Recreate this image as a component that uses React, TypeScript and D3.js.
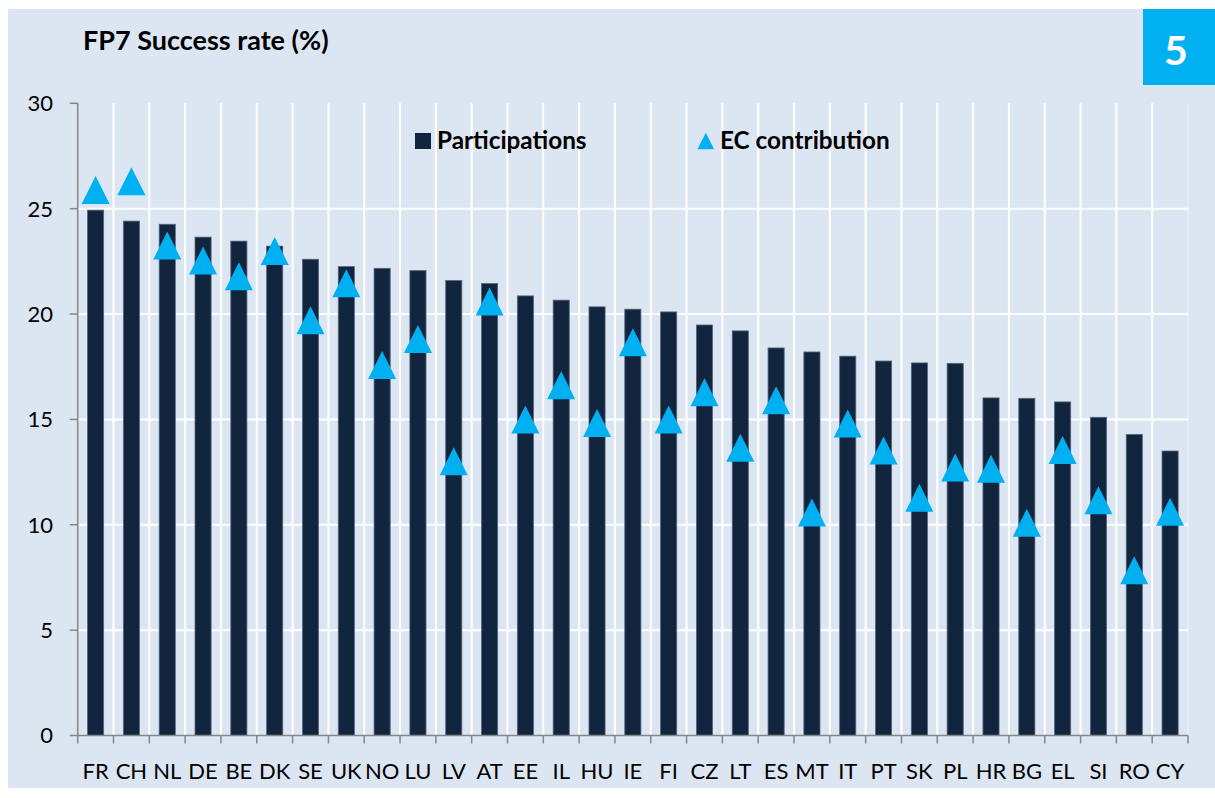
import * as d3 from "d3";

// FP7 success rates by country (%)
const countries = [
  "FR", "CH", "NL", "DE", "BE", "DK", "SE", "UK", "NO", "LU", "LV", "AT", "EE", "IL", "HU", "IE",
  "FI", "CZ", "LT", "ES", "MT", "IT", "PT", "SK", "PL", "HR", "BG", "EL", "SI", "RO", "CY",
];
const participations = [
  24.93, 24.41, 24.26, 23.65, 23.46, 23.22, 22.6, 22.25, 22.17, 22.06, 21.59, 21.45, 20.86, 20.66, 20.34, 20.23,
  20.1, 19.48, 19.2, 18.39, 18.2, 18.0, 17.77, 17.68, 17.66, 16.02, 16.0, 15.83, 15.1, 14.29, 13.5,
];
const ecContribution = [
  25.88, 26.3, 23.25, 22.54, 21.79, 22.99, 19.7, 21.46, 17.58, 18.81, 13.02, 20.59, 14.99, 16.62, 14.83, 18.66,
  14.99, 16.29, 13.65, 15.91, 10.58, 14.8, 13.53, 11.28, 12.72, 12.66, 10.1, 13.55, 11.16, 7.84, 10.62,
];
const yTicks = [0, 5, 10, 15, 20, 25, 30];

const W = 1215;
const H = 798;
const FONT = "Lato, 'Open Sans', sans-serif";
const BAR = "#12253f";
const CYAN = "#00b0f0";

const App = () => {
  const left = 77.7;
  const right = 1188;
  const top = 103.3;
  const bottom = 735.5;

  const x = d3.scaleBand<string>().domain(countries).range([left, right]).padding(0);
  const y = d3.scaleLinear().domain([0, 30]).range([bottom, top]);
  const bw = x.bandwidth() * 0.45;
  const tri = 14; // half size of the marker

  const trianglePath = (cx: number, cy: number, r: number) =>
    `M${cx},${cy - r}L${cx + r},${cy + r}L${cx - r},${cy + r}Z`;

  // band boundaries for gridlines / ticks
  const bounds = d3.range(countries.length + 1).map((i) => left + i * x.step());

  return (
    <svg width={W} height={H} style={{ display: "block", fontFamily: FONT }}>
      <style>{`body{margin:0}`}</style>
      <rect x={0} y={0} width={W} height={H} fill="#ffffff" />
      <rect x={8} y={9} width={W - 8} height={779} fill="#dce6f2" />

      {/* corner badge */}
      <rect x={1143} y={9} width={72} height={76} fill={CYAN} />
      <text x={1176} y={65} fill="#fff" fontSize={41} fontWeight={700} textAnchor="middle">5</text>

      <text x={83} y={50} fontSize={27} fontWeight={700} fill="#000">FP7 Success rate (%)</text>

      {/* gridlines */}
      {yTicks.filter((t) => t > 0 && t < 30).map((t) => (
        <line key={"h" + t} x1={left} x2={right} y1={y(t)} y2={y(t)} stroke="#fff" strokeWidth={2} />
      ))}
      {bounds.slice(1).map((b, i) => (
        <line key={"v" + i} x1={b} x2={b} y1={top} y2={bottom} stroke="#fff"
          strokeWidth={i === countries.length - 1 ? 1 : 2} opacity={i === countries.length - 1 ? 0.5 : 1} />
      ))}

      {/* legend */}
      <rect x={415} y={133} width={16} height={16} fill={BAR} />
      <text x={437} y={149} fontSize={24.3} fontWeight={700} fill="#000">Participations</text>
      <path d={trianglePath(705.8, 141, 8.3)} fill={CYAN} />
      <text x={720} y={149} fontSize={24.3} fontWeight={700} fill="#000">EC contribution</text>

      {/* bars */}
      {countries.map((c, i) => (
        <rect key={"b" + c} x={x(c)! + (x.bandwidth() - bw) / 2} y={y(participations[i])} width={bw}
          height={y(0) - y(participations[i])} fill={BAR} stroke="#56657a" strokeWidth={0.8} />
      ))}

      {/* EC contribution markers */}
      {countries.map((c, i) => (
        <path key={"t" + c} d={trianglePath(x(c)! + x.bandwidth() / 2, y(ecContribution[i]), tri)} fill={CYAN} />
      ))}

      {/* axes */}
      <line x1={left} x2={left} y1={top} y2={bottom} stroke="#868686" strokeWidth={1.5} />
      {yTicks.map((t) => (
        <g key={"yt" + t}>
          <line x1={left - 8} x2={left} y1={y(t)} y2={y(t)} stroke="#868686" strokeWidth={1.5} />
          <text x={53} y={y(t)} dy="0.36em" textAnchor="end" fontSize={22} fill="#000">{t}</text>
        </g>
      ))}
      <line x1={left} x2={right} y1={bottom} y2={bottom} stroke="#868686" strokeWidth={1.5} />
      {bounds.map((b, i) => (
        <line key={"xt" + i} x1={b} x2={b} y1={bottom} y2={bottom + 8} stroke="#868686" strokeWidth={1.5} />
      ))}
      {countries.map((c) => (
        <text key={"xl" + c} x={x(c)! + x.bandwidth() / 2} y={779} textAnchor="middle" fontSize={22} fill="#000">{c}</text>
      ))}
    </svg>
  );
};

export default App;
